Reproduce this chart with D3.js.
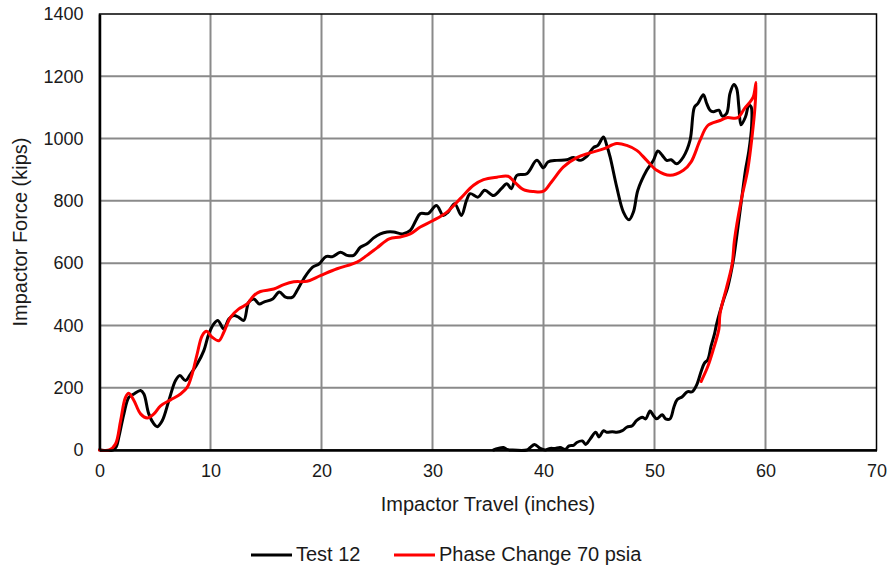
<!DOCTYPE html>
<html>
<head>
<meta charset="utf-8">
<script src="https://cdn.jsdelivr.net/npm/d3@7"></script>
<style>
  html, body { margin: 0; padding: 0; background: #fff; }
  svg { display: block; font-family: "Liberation Sans", Arial, sans-serif; }
</style>
</head>
<body>
<svg id="chart" width="892" height="571"></svg>
<script>
// Force–travel record of Test 12 (loading then unloading), [travel in, force kips]
const test12 = [
  [0,0],[1.2,0],[1.5,10],[1.74,41],[2.2,116],[2.64,169],[3.1,180],[3.7,191],[4.0,180],[4.44,116],
  [4.9,84],[5.2,75],[5.65,94],[6.25,159],[6.85,223],[7.24,239],[7.75,223],[8.2,244],[8.8,276],[9.4,319],
  [9.85,373],[10.3,405],[10.66,416],[11.2,389],[11.65,421],[12.1,432],[12.55,426],[13.0,416],[13.45,475],
  [13.9,485],[14.4,469],[14.8,475],[15.6,485],[16.2,507],[16.76,491],[17.4,491],[17.8,512],[18.4,550],
  [19.2,587],[19.8,598],[20.4,621],[21.0,621],[21.7,635],[22.3,625],[22.9,625],[23.5,651],[24.1,662],
  [24.7,681],[25.3,694],[25.9,700],[26.5,700],[27.3,694],[28.0,705],[28.5,737],[28.9,759],[29.6,759],
  [30.36,785],[30.96,753],[31.4,764],[32.0,791],[32.6,753],[33.06,801],[33.4,823],[34.1,812],[34.7,834],
  [35.5,817],[36.2,839],[36.7,855],[37.1,839],[37.6,882],[38.5,887],[39.4,930],[40.0,906],[40.4,925],
  [41.2,930],[42.1,932],[42.7,939],[43.3,930],[43.9,943],[44.5,971],[44.9,978],[45.4,1005],[45.7,978],
  [46.0,941],[46.6,844],[47.2,764],[47.7,739],[48.1,764],[48.5,834],[49.3,898],[49.9,930],[50.3,960],
  [50.7,946],[51.1,930],[51.5,932],[52.0,919],[52.6,941],[53.2,994],[53.6,1101],[53.9,1112],[54.4,1141],
  [54.7,1113],[55.0,1091],[55.3,1086],[55.8,1091],[56.1,1072],[56.5,1081],[56.8,1145],[57.15,1174],
  [57.4,1161],[57.6,1102],[57.8,1044],[58.2,1070],[58.5,1107],[58.7,1102],
  // unloading
  [58.75,1040],[58.5,960],[58.2,900],[57.9,820],[57.4,684],[57.1,609],[56.6,523],[56.2,480],[55.6,405],
  [55.4,372],[55.1,334],[54.8,290],[54.5,279],[54.2,252],[53.8,209],[53.4,187],[52.95,187],[52.5,171],
  [52.05,162],[51.75,138],[51.4,100],[51.0,100],[50.7,113],[50.2,100],[49.9,111],[49.6,125],[49.2,100],
  [48.9,105],[48.4,95],[48.0,78],[47.5,73],[47.1,62],[46.6,57],[46.2,59],[45.7,57],[45.4,62],[45.0,42],
  [44.7,57],[44.2,35],[43.8,18],[43.5,29],[43.0,24],[42.7,15],[42.3,13],[41.96,2],[41.5,8],[41.05,5],
  [40.6,5],[40.15,0],[39.7,5],[39.2,18],[38.8,8],[38.5,0],[37.1,0],[36.7,2],[36.4,8],[35.9,5],[35.5,0]
];

// Phase-change model at 70 psia, [travel in, force kips]
const phaseChange70 = [
  [0,0],[0.9,0],[1.44,19],[1.9,94],[2.34,169],[2.64,182],[3.1,159],[3.7,116],[4.3,103],[4.9,116],
  [5.5,142],[6.4,161],[7.3,180],[7.9,201],[8.35,244],[8.8,309],[9.25,367],[9.64,381],[10.15,362],
  [10.75,351],[11.2,378],[11.8,426],[12.55,453],[13.3,469],[13.9,496],[14.5,509],[15.7,517],[16.6,531],
  [17.5,540],[18.7,542],[19.9,560],[21.4,582],[23.2,603],[24.1,625],[25.0,649],[26.1,678],[27.1,684],
  [28.0,694],[28.9,716],[30.06,737],[31.3,764],[32.5,807],[33.7,850],[34.6,868],[35.8,876],[36.8,879],
  [37.4,860],[38.2,836],[39.1,830],[40.0,831],[40.7,860],[41.8,909],[43.0,939],[44.2,954],[45.4,967],
  [46.6,984],[47.5,978],[48.4,962],[49.3,930],[50.2,898],[51.4,882],[52.6,898],[53.3,925],[54.1,994],
  [54.8,1042],[55.9,1058],[56.5,1067],[57.5,1067],[58.1,1096],[58.6,1117],[58.9,1134],[59.15,1180],
  // unloading
  [59.05,1100],[58.8,1010],[58.4,900],[57.8,800],[57.2,673],[57.0,598],[56.5,523],[55.9,437],
  [55.8,388],[55.3,323],[54.8,268],[54.2,220]
];

const xTicks = [0, 10, 20, 30, 40, 50, 60, 70];
const yTicks = [0, 200, 400, 600, 800, 1000, 1200, 1400];
const xTitle = "Impactor Travel (inches)";
const yTitle = "Impactor Force (kips)";
const seriesNames = ["Test 12", "Phase Change 70 psia"];
const seriesColors = ["#000000", "#ff0000"];

const svg = d3.select("#chart");
const plot = { left: 99.5, right: 876.5, top: 14, bottom: 450 };

const x = d3.scaleLinear().domain([0, 70]).range([plot.left, plot.right]);
const y = d3.scaleLinear().domain([0, 1400]).range([plot.bottom, plot.top]);

// gridlines
const grid = svg.append("g");
grid.selectAll("line.v").data(xTicks.slice(1, -1)).join("line")
  .attr("x1", d => x(d)).attr("x2", d => x(d))
  .attr("y1", plot.top).attr("y2", plot.bottom)
  .attr("stroke", "#8a8a8a").attr("stroke-width", 2);
grid.selectAll("line.h").data(yTicks.slice(1, -1)).join("line")
  .attr("x1", plot.left).attr("x2", plot.right)
  .attr("y1", d => y(d)).attr("y2", d => y(d))
  .attr("stroke", "#8a8a8a").attr("stroke-width", 2);

// plot frame
svg.append("rect")
  .attr("x", plot.left).attr("y", plot.top)
  .attr("width", plot.right - plot.left).attr("height", plot.bottom - plot.top)
  .attr("fill", "none").attr("stroke", "#000").attr("stroke-width", 1.5);

// data lines
const line = d3.line()
  .x(d => x(d[0])).y(d => y(d[1]))
  .curve(d3.curveCatmullRom.alpha(0.5));

svg.append("path").datum(test12)
  .attr("d", line).attr("fill", "none")
  .attr("stroke", seriesColors[0]).attr("stroke-width", 3)
  .attr("stroke-linejoin", "round").attr("stroke-linecap", "round");

svg.append("path").datum(phaseChange70)
  .attr("d", line).attr("fill", "none")
  .attr("stroke", seriesColors[1]).attr("stroke-width", 3)
  .attr("stroke-linejoin", "round").attr("stroke-linecap", "round");

// axes
const xAxis = svg.append("g")
  .attr("transform", `translate(0,${plot.bottom})`)
  .call(d3.axisBottom(x).tickValues(xTicks).tickSize(0).tickPadding(14).tickFormat(d3.format("d")));
const yAxis = svg.append("g")
  .attr("transform", `translate(${plot.left},0)`)
  .call(d3.axisLeft(y).tickValues(yTicks).tickSize(0).tickPadding(16).tickFormat(d3.format("d")));

[xAxis, yAxis].forEach(a => {
  a.select(".domain").attr("stroke", "#000").attr("stroke-width", 2.5);
  a.selectAll("text").attr("font-size", 18).attr("fill", "#1a1a1a")
    .attr("font-family", "Liberation Sans, Arial, sans-serif");
});

// axis titles
svg.append("text")
  .attr("x", (plot.left + plot.right) / 2).attr("y", 511)
  .attr("text-anchor", "middle").attr("font-size", 20).attr("fill", "#1a1a1a")
  .text(xTitle);

svg.append("text")
  .attr("transform", `translate(27,${(plot.top + plot.bottom) / 2}) rotate(-90)`)
  .attr("text-anchor", "middle").attr("font-size", 20).attr("fill", "#1a1a1a")
  .text(yTitle);

// legend
const legendItems = [
  { name: seriesNames[0], color: seriesColors[0], x0: 251 },
  { name: seriesNames[1], color: seriesColors[1], x0: 394 }
];
const lg = svg.append("g");
legendItems.forEach(it => {
  lg.append("line")
    .attr("x1", it.x0).attr("x2", it.x0 + 41)
    .attr("y1", 555).attr("y2", 555)
    .attr("stroke", it.color).attr("stroke-width", 3);
  lg.append("text")
    .attr("x", it.x0 + 45).attr("y", 561)
    .attr("font-size", 20).attr("fill", "#1a1a1a")
    .text(it.name);
});
</script>
</body>
</html>
